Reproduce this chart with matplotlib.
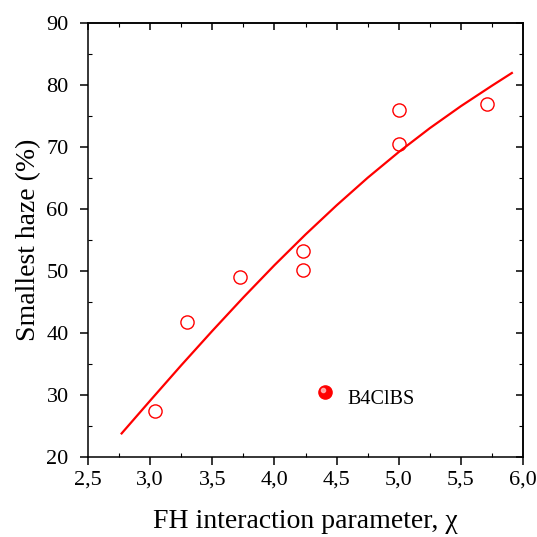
import numpy as np
import matplotlib.pyplot as plt
from matplotlib.ticker import MultipleLocator, FuncFormatter, NullFormatter
from matplotlib.transforms import ScaledTranslation

plt.rcParams['font.family'] = ['Liberation Serif', 'DejaVu Serif']

# experimental points (open circles)
chi = [3.04, 3.30, 3.72, 4.23, 4.23, 5.00, 5.00, 5.71]
haze = [27.4, 41.8, 49.1, 53.2, 50.2, 76.0, 70.5, 77.0]

# outlier
chi_b4 = [4.41]
haze_b4 = [30.5]

# fitted curve
fit_x = [2.77, 3.0, 3.25, 3.5, 3.75, 4.0, 4.25, 4.5, 4.75, 5.0, 5.25, 5.5, 5.75, 5.91]
fit_y = [23.8, 29.1, 34.8, 40.35, 45.75, 50.95, 55.9, 60.6, 65.05, 69.2, 73.05, 76.6, 79.9, 81.95]

fig = plt.figure(figsize=(5.37, 5.37), dpi=100)
ax = fig.add_axes([0.164, 0.149, 0.81, 0.808])

ax.plot(fit_x, fit_y, '-', color='#ff0000', lw=1.6)
ax.plot(chi, haze, 'o', mfc='none', mec='#ff0000', ms=9.5, mew=1.0)
ax.plot(chi_b4, haze_b4, 'o', color='#ff0000', ms=9.5)
# small highlight so the point looks like a ball
ax.plot(chi_b4, haze_b4, 'o', color='#ffb8b8', ms=3, alpha=0.85,
        transform=ax.transData + ScaledTranslation(-1.5/72, 1.5/72, fig.dpi_scale_trans))
ax.text(4.59, 29.3, 'B4ClBS', fontsize=14.5, va='center', ha='left')

ax.set_xlim(2.5, 6.0)
ax.set_ylim(20, 90)
ax.xaxis.set_major_locator(MultipleLocator(0.5))
ax.xaxis.set_minor_locator(MultipleLocator(0.25))
ax.yaxis.set_major_locator(MultipleLocator(10))
ax.yaxis.set_minor_locator(MultipleLocator(5))
ax.xaxis.set_major_formatter(FuncFormatter(lambda v, p: ('%.1f' % v).replace('.', ',')))

ax.tick_params(which='major', direction='out', length=6, width=1.1, labelsize=16)
ax.tick_params(axis='x', which='major', pad=4)
ax.tick_params(axis='y', which='major', pad=8)
ax.tick_params(which='minor', direction='in', length=3, width=0.8)
for s in ax.spines.values():
    s.set_linewidth(1.1)

# top and right: ticks pointing inward, no labels
top = ax.secondary_xaxis('top')
top.xaxis.set_major_locator(MultipleLocator(0.5))
top.xaxis.set_minor_locator(MultipleLocator(0.25))
top.xaxis.set_major_formatter(NullFormatter())
top.tick_params(which='major', direction='in', length=5, width=1.1)
top.tick_params(which='minor', direction='in', length=3, width=0.8)
right = ax.secondary_yaxis('right')
right.yaxis.set_major_locator(MultipleLocator(10))
right.yaxis.set_minor_locator(MultipleLocator(5))
right.yaxis.set_major_formatter(NullFormatter())
right.tick_params(which='major', direction='in', length=5, width=1.1)
right.tick_params(which='minor', direction='in', length=3, width=0.8)
for sec in (top, right):
    for s in sec.spines.values():
        s.set_linewidth(1.1)

ax.set_xlabel('FH interaction parameter, χ', fontsize=20, labelpad=14)
ax.set_ylabel('Smallest haze (%)', fontsize=20, labelpad=4)

fig.savefig('out.png', dpi=100)
